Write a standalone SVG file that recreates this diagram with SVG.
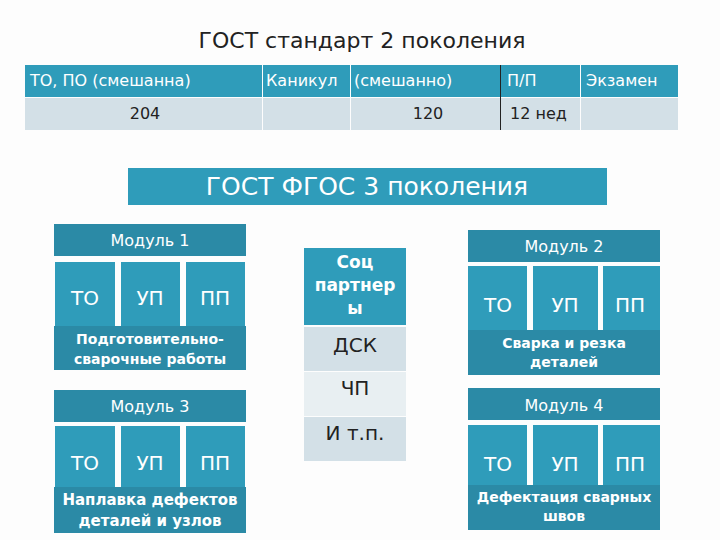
<svg xmlns="http://www.w3.org/2000/svg" width="720" height="540" viewBox="0 0 720 540">
<style>
text{font-family:"DejaVu Sans","Noto Sans",sans-serif}
.h{fill:#2b8aa6}.c{fill:#2f9cba}.l{fill:#d3e0e7}.l2{fill:#e8eff2}
.w{fill:#fff}.k{fill:#222}
</style>
<rect width="720" height="540" fill="#fdfdfd"/>
<text x="362" y="48" font-size="22" text-anchor="middle" class="k">ГОСТ стандарт 2 поколения</text>
<g id="table">
<rect x="25" y="65" width="237" height="32" class="c"/>
<rect x="263" y="65" width="87" height="32" class="c"/>
<rect x="351" y="65" width="149" height="32" class="c"/>
<rect x="501" y="65" width="79" height="32" class="c"/>
<rect x="581" y="65" width="97" height="32" class="c"/>
<rect x="25" y="98" width="237" height="32" class="l"/>
<rect x="263" y="98" width="87" height="32" class="l"/>
<rect x="351" y="98" width="149" height="32" class="l"/>
<rect x="501" y="98" width="79" height="32" class="l"/>
<rect x="581" y="98" width="97" height="32" class="l"/>
<line x1="500.5" y1="65" x2="500.5" y2="130" stroke="#222"/>
<g font-size="16" class="w">
<text x="30" y="86">ТО, ПО  (смешанна)</text>
<text x="266" y="86">Каникул</text>
<text x="354" y="86">(смешанно)</text>
<text x="507" y="86">П/П</text>
<text x="586" y="86">Экзамен</text>
</g>
<g font-size="16" class="k">
<text x="145" y="119" text-anchor="middle">204</text>
<text x="428" y="119" text-anchor="middle">120</text>
<text x="510" y="119">12 нед</text>
</g>
</g>
<g id="banner">
<rect x="128" y="168" width="479" height="37" class="c"/>
<text x="367" y="195" font-size="25" text-anchor="middle" class="w">ГОСТ ФГОС 3 поколения</text>
</g>
<g id="m1">
<rect x="54" y="224" width="192" height="32" class="h"/>
<text x="150" y="246" font-size="16" text-anchor="middle" class="w">Модуль 1</text>
<rect x="55" y="262" width="60" height="64" class="c"/><rect x="121" y="262" width="59" height="64" class="c"/><rect x="186" y="262" width="59" height="64" class="c"/>
<g font-size="20" text-anchor="middle" class="w"><text x="85" y="305">ТО</text><text x="150" y="305">УП</text><text x="215" y="305">ПП</text></g>
<rect x="54" y="326" width="192" height="44" class="h"/>
<g font-size="14" font-weight="bold" text-anchor="middle" class="w"><text x="150" y="344">Подготовительно-</text><text x="150" y="364">сварочные работы</text></g>
</g>
<g id="m3">
<rect x="54" y="390" width="192" height="32" class="h"/>
<text x="150" y="412" font-size="16" text-anchor="middle" class="w">Модуль 3</text>
<rect x="55" y="426" width="60" height="61" class="c"/><rect x="121" y="426" width="59" height="61" class="c"/><rect x="186" y="426" width="59" height="61" class="c"/>
<g font-size="20" text-anchor="middle" class="w"><text x="85" y="470">ТО</text><text x="150" y="470">УП</text><text x="215" y="470">ПП</text></g>
<rect x="54" y="487" width="192" height="46" class="h"/>
<g font-size="15" font-weight="bold" text-anchor="middle" class="w"><text x="150" y="505">Наплавка дефектов</text><text x="150" y="526">деталей и узлов</text></g>
</g>
<g id="partners">
<rect x="304" y="248" width="102" height="77" class="c"/>
<g font-size="17" font-weight="bold" text-anchor="middle" class="w"><text x="355" y="268">Соц</text><text x="355" y="291">партнер</text><text x="355" y="314">ы</text></g>
<rect x="304" y="327" width="102" height="44" class="l"/>
<rect x="304" y="372" width="102" height="44" class="l2"/>
<rect x="304" y="417" width="102" height="44" class="l"/>
<g font-size="20" text-anchor="middle" class="k"><text x="355" y="352">ДСК</text><text x="355" y="395">ЧП</text><text x="355" y="440">И т.п.</text></g>
</g>
<g id="m2">
<rect x="468" y="230" width="192" height="32" class="h"/>
<text x="564" y="252" font-size="16" text-anchor="middle" class="w">Модуль 2</text>
<rect x="468" y="266" width="59" height="64" class="c"/><rect x="533" y="266" width="65" height="64" class="c"/><rect x="603" y="266" width="57" height="64" class="c"/>
<g font-size="20" text-anchor="middle" class="w"><text x="498" y="312">ТО</text><text x="565" y="312">УП</text><text x="630" y="312">ПП</text></g>
<rect x="468" y="330" width="192" height="45" class="h"/>
<g font-size="14" font-weight="bold" text-anchor="middle" class="w"><text x="564" y="348">Сварка и резка</text><text x="564" y="367">деталей</text></g>
</g>
<g id="m4">
<rect x="468" y="388" width="192" height="32" class="h"/>
<text x="564" y="411" font-size="16" text-anchor="middle" class="w">Модуль 4</text>
<rect x="468" y="425" width="59" height="60" class="c"/><rect x="533" y="425" width="65" height="60" class="c"/><rect x="603" y="425" width="57" height="60" class="c"/>
<g font-size="20" text-anchor="middle" class="w"><text x="498" y="471">ТО</text><text x="565" y="471">УП</text><text x="630" y="471">ПП</text></g>
<rect x="468" y="485" width="192" height="45" class="h"/>
<g font-size="14" font-weight="bold" text-anchor="middle" class="w"><text x="564" y="502">Дефектация сварных</text><text x="564" y="521">швов</text></g>
</g>
</svg>
